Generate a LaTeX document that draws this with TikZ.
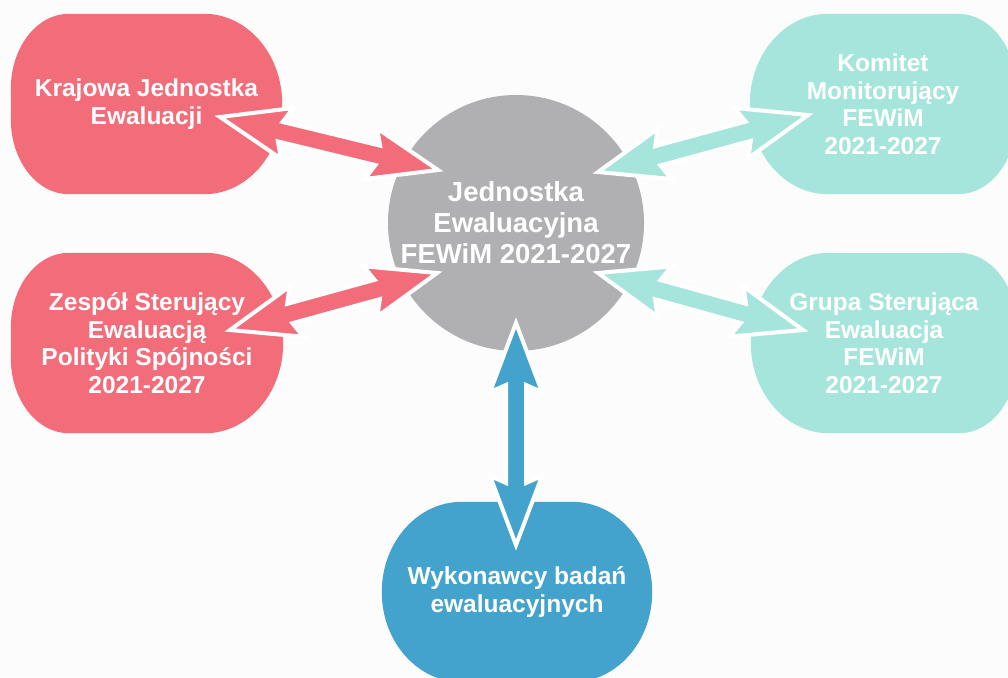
\documentclass[tikz,border=0pt]{standalone}
\usepackage{fontspec}
\setmainfont{Liberation Sans}
\usetikzlibrary{calc,backgrounds}
\definecolor{bgc}{RGB}{252,252,252}
\definecolor{redc}{RGB}{243,108,122}
\definecolor{tealc}{RGB}{166,229,220}
\definecolor{greyc}{RGB}{176,176,178}
\definecolor{bluec}{RGB}{68,163,205}
% #1 node, #2 colour, #3/#4 left corner radii, #5/#6 right corner radii
\newcommand{\Pill}[6]{%
  \fill[#2] ($(#1.north west)+(#3,0)$) -- ($(#1.north east)+(-#5,0)$)
    arc[start angle=90,end angle=0,x radius=#5pt,y radius=#6pt]
    -- ($(#1.south east)+(0,-#6)$)
    arc[start angle=0,end angle=-90,x radius=#5pt,y radius=#6pt]
    -- ($(#1.south west)+(#3,0)$)
    arc[start angle=270,end angle=180,x radius=#3pt,y radius=#4pt]
    -- ($(#1.north west)+(0,#4)$)
    arc[start angle=180,end angle=90,x radius=#3pt,y radius=#4pt] -- cycle;}
\newcommand{\DblArrow}[3]{%
  \filldraw[fill=#3, draw=white, line width=4pt, line join=miter]
  (#1)
  -- ($ ($(#1)!69pt!(#2)$)!26pt!90:(#2) $)
  -- ($ ($(#1)!62pt!(#2)$)!10pt!90:(#2) $)
  -- ($ ($(#2)!62pt!(#1)$)!10pt!-90:(#1) $)
  -- ($ ($(#2)!69pt!(#1)$)!26pt!-90:(#1) $)
  -- (#2)
  -- ($ ($(#2)!69pt!(#1)$)!26pt!90:(#1) $)
  -- ($ ($(#2)!62pt!(#1)$)!10pt!90:(#1) $)
  -- ($ ($(#1)!62pt!(#2)$)!10pt!-90:(#2) $)
  -- ($ ($(#1)!69pt!(#2)$)!26pt!-90:(#2) $)
  -- cycle;}
\tikzset{
  pillbox/.style={rectangle, minimum width=#1, minimum height=180pt, inner sep=0pt,
    align=center, text=white, font=\fontsize{24.5}{27.5}\selectfont\bfseries},
  hub/.style={circle, fill=greyc, minimum size=256pt, inner sep=0pt,
    align=center, text=white, font=\fontsize{27.5}{31}\selectfont\bfseries}
}
\begin{document}
\begin{tikzpicture}[x=1pt,y=-1pt]
\useasboundingbox (0,0) rectangle (1008,677);
\node[pillbox=271pt] (kje) at (146.5,104) {Krajowa Jednostka\\Ewaluacji};
\node[pillbox=272pt] (zse) at (147,343) {Zespół Sterujący\\Ewaluacją\\Polityki Spójności\\2021-2027};
\node[pillbox=266pt] (kom) at (883,104) {Komitet\\Monitorujący\\FEWiM\\2021-2027};
\node[pillbox=266pt] (grs) at (884,343) {Grupa Sterująca\\Ewaluacja\\FEWiM\\2021-2027};
\node[pillbox=270pt] (wyk) at (517,592) {Wykonawcy badań\\ewaluacyjnych};
\node[hub] (jew) at (516,223) {Jednostka\\Ewaluacyjna\\FEWiM 2021-2027};
\begin{pgfonlayer}{background}
  \fill[bgc] (0,0) rectangle (1008,677);
  \Pill{kje}{redc}{58}{75}{78}{90}
  \Pill{zse}{redc}{58}{75}{78}{90}
  \Pill{kom}{tealc}{78}{90}{58}{75}
  \Pill{grs}{tealc}{78}{90}{58}{75}
  \Pill{wyk}{bluec}{80}{90}{80}{90}
\end{pgfonlayer}
\coordinate (a1) at (220,117);
\coordinate (a2) at (438,170);
\coordinate (b1) at (230,330);
\coordinate (b2) at (437,273);
\coordinate (c1) at (598,172);
\coordinate (c2) at (808,115);
\coordinate (d1) at (598,273);
\coordinate (d2) at (803,330);
\coordinate (e1) at (516,323);
\coordinate (e2) at (516,545);
\DblArrow{a1}{a2}{redc}
\DblArrow{b1}{b2}{redc}
\DblArrow{c1}{c2}{tealc}
\DblArrow{d1}{d2}{tealc}
\DblArrow{e1}{e2}{bluec}
\end{tikzpicture}
\end{document}
